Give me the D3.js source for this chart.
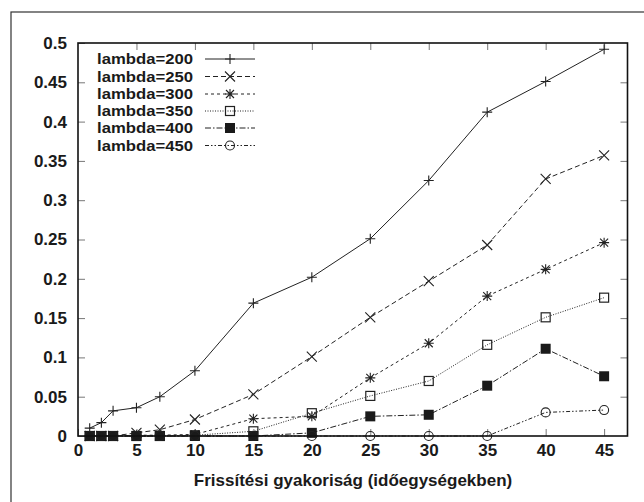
<!DOCTYPE html>
<html><head><meta charset="utf-8">
<script src="https://cdn.jsdelivr.net/npm/d3@7"></script>
<style>body{margin:0;background:#fff}svg{display:block}text{font-family:"Liberation Sans",Arial,sans-serif;font-weight:bold;fill:#1a1a1a}</style>
</head><body>
<script>
const xs = [1, 2, 3, 5, 7, 10, 15, 20, 25, 30, 35, 40, 45];
const seriesNames = ["lambda=200", "lambda=250", "lambda=300", "lambda=350", "lambda=400", "lambda=450"];
const lambda200 = [0.010, 0.017, 0.032, 0.036, 0.050, 0.083, 0.169, 0.202, 0.251, 0.325, 0.412, 0.451, 0.492];
const lambda250 = [0, 0, 0, 0.004, 0.008, 0.021, 0.053, 0.101, 0.151, 0.197, 0.243, 0.327, 0.357];
const lambda300 = [0, 0, 0, 0.001, 0.001, 0.002, 0.022, 0.025, 0.074, 0.118, 0.178, 0.212, 0.246];
const lambda350 = [0, 0, 0, 0, 0, 0.001, 0.006, 0.029, 0.051, 0.070, 0.116, 0.151, 0.176];
const lambda400 = [0, 0, 0, 0, 0, 0, 0, 0.004, 0.025, 0.027, 0.064, 0.111, 0.076];
const lambda450 = [0, 0, 0, 0, 0, 0, 0, 0, 0, 0, 0, 0.030, 0.033];
const xTicks = [0, 5, 10, 15, 20, 25, 30, 35, 40, 45];
const yTicks = [0, 0.05, 0.1, 0.15, 0.2, 0.25, 0.3, 0.35, 0.4, 0.45, 0.5];
const xLabel = "Frissítési gyakoriság (időegységekben)";

const allSeries = [lambda200, lambda250, lambda300, lambda350, lambda400, lambda450];
const dashes = [null, "5,3", "3,3", "1,1.5", "6,2,1.5,2", "4,2,1.5,2,1.5,2"];
const markers = ["plus", "cross", "star", "square", "fsquare", "circle"];

const W = 644, H = 502;
const FS = 17;
const svg = d3.select("body").append("svg").attr("width", W).attr("height", H);
svg.append("rect").attr("x", 11).attr("y", 12).attr("width", 700).attr("height", 600)
  .attr("fill", "none").attr("stroke", "#333").attr("stroke-width", 1.2);

const L = 78, R = 627.5, T = 43, B = 436;
const x = d3.scaleLinear().domain([0, 47]).range([L, R]);
const y = d3.scaleLinear().domain([0, 0.5]).range([B, T]);

const g = svg.append("g");
const tickLen = 7;
const tickC = "#777";
g.append("g").attr("transform", `translate(${L},0)`)
  .call(d3.axisLeft(y).tickValues(yTicks).tickSize(-tickLen).tickPadding(11).tickFormat(d => String(+d.toFixed(2))))
  .call(a => { a.select(".domain").remove(); a.selectAll("line").attr("stroke", tickC);
    a.selectAll("text").attr("font-size", FS).style("font-family", "Liberation Sans, Arial").style("font-weight", "bold").attr("fill", "#1a1a1a"); });
g.append("g").attr("transform", `translate(${R},0)`)
  .call(d3.axisRight(y).tickValues(yTicks.slice(1, -1)).tickSize(-tickLen).tickFormat(""))
  .call(a => { a.select(".domain").remove(); a.selectAll("line").attr("stroke", tickC); });
g.append("g").attr("transform", `translate(0,${B})`)
  .call(d3.axisBottom(x).tickValues(xTicks).tickSize(-tickLen).tickPadding(11))
  .call(a => { a.select(".domain").remove(); a.selectAll("line").attr("stroke", tickC);
    a.selectAll("text").attr("font-size", FS).attr("dy", "0.55em").style("font-family", "Liberation Sans, Arial").style("font-weight", "bold").attr("fill", "#1a1a1a"); });
g.append("g").attr("transform", `translate(0,${T})`)
  .call(d3.axisTop(x).tickValues(xTicks.slice(1)).tickSize(-tickLen).tickFormat(""))
  .call(a => { a.select(".domain").remove(); a.selectAll("line").attr("stroke", tickC); });

svg.append("text").attr("x", 353).attr("y", 486).attr("text-anchor", "middle")
  .attr("font-size", FS).text(xLabel);

const lc = "#222";
function marker(sel, type, cx, cy) {
  const s = 5;
  if (type === "plus") {
    sel.append("path").attr("d", `M${cx - s},${cy}H${cx + s}M${cx},${cy - s}V${cy + s}`).attr("stroke", lc).attr("stroke-width", 1.1);
  } else if (type === "cross") {
    sel.append("path").attr("d", `M${cx - s},${cy - s}L${cx + s},${cy + s}M${cx - s},${cy + s}L${cx + s},${cy - s}`).attr("stroke", lc).attr("stroke-width", 1.1);
  } else if (type === "star") {
    sel.append("path").attr("d", `M${cx - s},${cy}H${cx + s}M${cx},${cy - s}V${cy + s}M${cx - 4},${cy - 4}L${cx + 4},${cy + 4}M${cx - 4},${cy + 4}L${cx + 4},${cy - 4}`).attr("stroke", lc).attr("stroke-width", 1.1);
  } else if (type === "square") {
    sel.append("rect").attr("x", cx - 4.5).attr("y", cy - 4.5).attr("width", 9).attr("height", 9).attr("fill", "none").attr("stroke", lc).attr("stroke-width", 1.2);
  } else if (type === "fsquare") {
    sel.append("rect").attr("x", cx - 5).attr("y", cy - 5).attr("width", 10).attr("height", 10).attr("fill", "#1a1a1a");
  } else if (type === "circle") {
    sel.append("circle").attr("cx", cx).attr("cy", cy).attr("r", 4.5).attr("fill", "none").attr("stroke", lc).attr("stroke-width", 1.1);
  }
}

const line = d3.line().x(d => x(d[0])).y(d => y(d[1]));
const plot = svg.append("g");
allSeries.forEach((vals, i) => {
  const pts = xs.map((xv, j) => [xv, vals[j]]);
  plot.append("path").attr("d", line(pts)).attr("fill", "none").attr("stroke", lc).attr("stroke-width", 1)
    .attr("stroke-dasharray", dashes[i]);
  const mg = plot.append("g");
  xs.forEach((xv, j) => marker(mg, markers[i], x(xv), y(vals[j])));
});

const legY = [59, 76.5, 94, 111, 128, 145.5];
const leg = svg.append("g");
seriesNames.forEach((name, i) => {
  const yy = legY[i];
  leg.append("text").attr("x", 97).attr("y", yy).attr("dy", "0.36em").attr("font-size", 15)
    .attr("textLength", 96).attr("lengthAdjust", "spacingAndGlyphs").text(name);
  leg.append("line").attr("x1", 205).attr("x2", 255).attr("y1", yy).attr("y2", yy).attr("stroke", lc).attr("stroke-width", 1).attr("stroke-dasharray", dashes[i]);
  marker(leg, markers[i], 230, yy);
});

svg.append("rect").attr("x", L).attr("y", T).attr("width", R - L).attr("height", B - T)
  .attr("fill", "none").attr("stroke", "#111").attr("stroke-width", 1.6);
</script>
</body></html>
